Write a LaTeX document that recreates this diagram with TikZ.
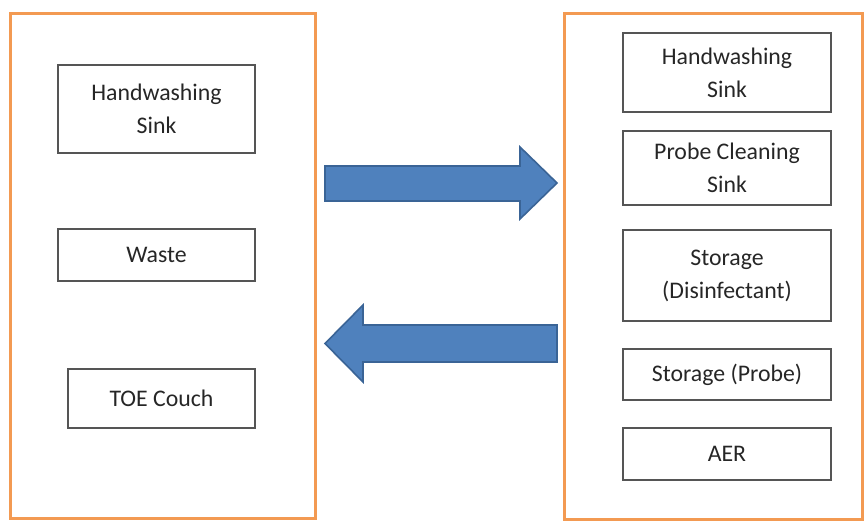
\documentclass[tikz,border=0pt]{standalone}
\usepackage{fontspec}
\setmainfont{Carlito}
\definecolor{frameorange}{HTML}{F39A52}
\definecolor{boxgray}{HTML}{555555}
\definecolor{arrowfill}{HTML}{4F81BD}
\definecolor{arrowedge}{HTML}{3A6496}
\begin{document}
\begin{tikzpicture}[x=1pt,y=-1pt,
  frame/.style={draw=frameorange,line width=3pt},
  itembox/.style={draw=boxgray,line width=1.1pt,align=center,inner sep=2pt,
    font=\fontsize{23.8}{33}\selectfont,text=black!85},
  blockarrow/.style={fill=arrowfill,draw=arrowedge,line width=1.6pt,line join=miter}]
\useasboundingbox (0,0) rectangle (864,522);
% frames
\draw[frame] (10,13) rectangle (315,518);
\draw[frame] (564,13) rectangle (862,519);
% left boxes
\node[itembox,minimum width=197pt,minimum height=88pt] (lhs) at (156.5,109) {Handwashing\\Sink};
\node[itembox,minimum width=197pt,minimum height=52pt] (waste) at (156.5,255) {Waste};
\node[itembox,minimum width=187pt,minimum height=59pt] (toe) at (161.5,398.5) {TOE Couch};
% right boxes
\node[itembox,minimum width=208pt,minimum height=79pt] (rhs) at (727,72.5) {Handwashing\\Sink};
\node[itembox,minimum width=208pt,minimum height=74pt] (pcs) at (727,168) {Probe Cleaning\\Sink};
\node[itembox,minimum width=208pt,minimum height=91pt] (sd) at (727,275.5) {Storage\\(Disinfectant)};
\node[itembox,minimum width=208pt,minimum height=51pt] (sp) at (727,374.5) {Storage (Probe)};
\node[itembox,minimum width=208pt,minimum height=52pt] (aer) at (727,454) {AER};
% block arrows
\draw[blockarrow] (325,166) -- (520,166) -- (520,147) -- (557,183) -- (520,219) -- (520,201) -- (325,201) -- cycle;
\draw[blockarrow] (557,325) -- (363,325) -- (363,305) -- (325,343.5) -- (363,382) -- (363,362) -- (557,362) -- cycle;
\end{tikzpicture}
\end{document}
